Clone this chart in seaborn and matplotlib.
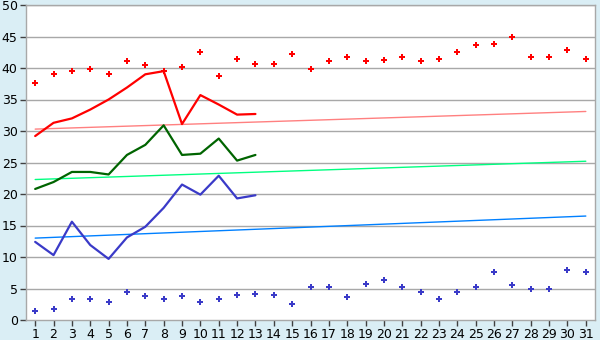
import numpy as np
import pandas as pd
import matplotlib
matplotlib.use("Agg")
import matplotlib.pyplot as plt
import seaborn as sns

days = list(range(1, 32))
max_pts = [37.6, 39.0, 39.5, 39.9, 39.0, 41.1, 40.4, 39.5, 40.1, 42.6,
           38.7, 41.4, 40.6, 40.6, 42.3, 39.9, 41.1, 41.7, 41.1, 41.2,
           41.7, 41.1, 41.4, 42.5, 43.6, 43.8, 45.0, 41.7, 41.7, 42.8, 41.4]
min_pts = [1.4, 1.7, 3.3, 3.3, 2.8, 4.4, 3.8, 3.3, 3.8, 2.8,
           3.3, 3.9, 4.1, 3.9, 2.5, 5.2, 5.2, 3.6, 5.7, 6.3,
           5.3, 4.4, 3.4, 4.4, 5.2, 7.6, 5.5, 4.9, 5.0, 7.9, 7.6]
line_days = list(range(1, 14))
red_line = [29.2, 31.3, 32.0, 33.4, 35.0, 36.9, 39.0, 39.5, 31.1, 35.7, 34.2, 32.6, 32.7]
green_line = [20.8, 21.9, 23.5, 23.5, 23.1, 26.2, 27.8, 30.9, 26.2, 26.4, 28.8, 25.3, 26.2]
blue_line = [12.4, 10.3, 15.6, 11.9, 9.7, 13.1, 14.8, 17.8, 21.5, 19.9, 22.9, 19.3, 19.8]
trend_days = [1, 31]
red_trend = [30.3, 33.1]
green_trend = [22.3, 25.2]
blue_trend = [13.0, 16.5]
xticks = [str(d) for d in days]
yticks = list(range(0, 51, 5))

sns.set_style("white")
plt.rcParams['font.family'] = ['DejaVu Sans']

bg = "#DAEEF5"
fig = plt.figure(figsize=(6, 3.4), dpi=100, facecolor=bg)
ax = fig.add_axes([26/600, 20/340, 569/600, 315/340])
ax.set_facecolor("white")

for y in yticks[1:]:
    ax.axhline(y, color="#A8A8A8", lw=1.0, zorder=0)

df_trend = pd.DataFrame({"d": trend_days, "r": red_trend, "g": green_trend, "b": blue_trend})
sns.lineplot(data=df_trend, x="d", y="r", color="#FF8080", lw=1.0, ax=ax)
sns.lineplot(data=df_trend, x="d", y="g", color="#00FF80", lw=1.0, ax=ax)
sns.lineplot(data=df_trend, x="d", y="b", color="#0080FF", lw=1.0, ax=ax)

df_line = pd.DataFrame({"d": line_days, "r": red_line, "g": green_line, "b": blue_line})
sns.lineplot(data=df_line, x="d", y="r", color="#FF0000", lw=1.6, ax=ax)
sns.lineplot(data=df_line, x="d", y="g", color="#006400", lw=1.6, ax=ax)
sns.lineplot(data=df_line, x="d", y="b", color="#3A3AC8", lw=1.6, ax=ax)

df_pts = pd.DataFrame({"d": days, "mx": max_pts, "mn": min_pts})
sns.scatterplot(data=df_pts, x="d", y="mx", color="#FF0000", marker="P", s=24, linewidth=0, ax=ax, zorder=5)
sns.scatterplot(data=df_pts, x="d", y="mn", color="#3A3AC8", marker="P", s=24, linewidth=0, ax=ax, zorder=5)

ax.set_xlim(0.5, 31.5)
ax.set_ylim(0, 50)
ax.set_xticks(days)
ax.set_xticklabels(xticks)
ax.set_yticks(yticks)
ax.set_xlabel("")
ax.set_ylabel("")
for s in ax.spines.values():
    s.set_color("#A8A8A8")
    s.set_linewidth(1.0)
ax.tick_params(axis="both", which="both", length=4, width=1, color="#404040",
               labelsize=9, labelcolor="#000000", pad=2, direction="out")
ax.tick_params(axis="x", bottom=True)
ax.tick_params(axis="y", left=True)

fig.savefig("out.png", dpi=100, facecolor=bg)
